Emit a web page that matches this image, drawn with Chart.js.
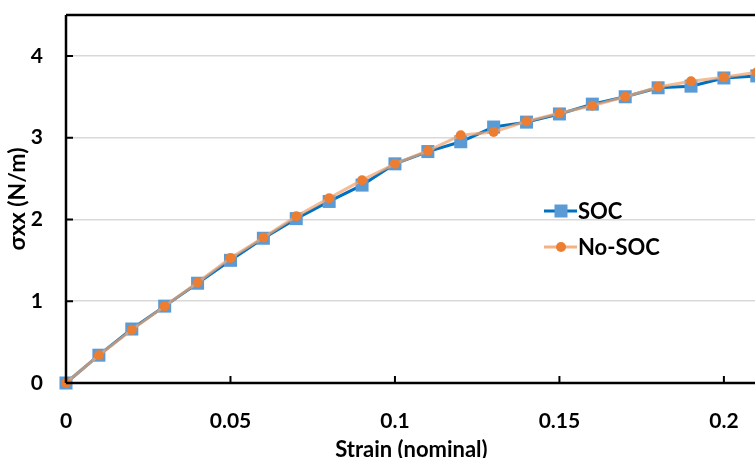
<!DOCTYPE html>
<html>
<head>
<meta charset="utf-8">
<script src="https://cdn.jsdelivr.net/npm/chart.js@4/dist/chart.umd.min.js"></script>
<style>
html,body{margin:0;padding:0;overflow:hidden;background:#fff;}
#wrap{width:766px;height:458px;}
</style>
</head>
<body>
<div id="wrap"><canvas id="c" width="766" height="458"></canvas></div>
<script>
const strain = [0,0.01,0.02,0.03,0.04,0.05,0.06,0.07,0.08,0.09,0.10,0.11,0.12,0.13,0.14,0.15,0.16,0.17,0.18,0.19,0.20,0.21];
const socValues = [0,0.34,0.66,0.94,1.22,1.50,1.77,2.01,2.22,2.42,2.68,2.83,2.95,3.13,3.19,3.29,3.41,3.50,3.61,3.63,3.73,3.755];
const noSocValues = [0,0.34,0.65,0.94,1.23,1.53,1.78,2.04,2.26,2.48,2.68,2.84,3.03,3.07,3.20,3.30,3.39,3.50,3.62,3.69,3.74,3.80];
const xTicks = [0,0.05,0.1,0.15,0.2];
const yTicks = [0,1,2,3,4];
const seriesNames = ['SOC','No-SOC'];

const FONT = 'Lato, "Open Sans", sans-serif';

const framePlugin = {
  id:'frame',
  afterDatasetsDraw(chart){
    const {ctx, chartArea:a, scales:{x,y}} = chart;
    ctx.save();
    ctx.strokeStyle = '#000';
    ctx.lineWidth = 2.5;
    ctx.beginPath();
    ctx.moveTo(a.left, a.top); ctx.lineTo(a.right+2, a.top);
    ctx.moveTo(a.left, a.top); ctx.lineTo(a.left, a.bottom);
    ctx.moveTo(a.left, a.bottom); ctx.lineTo(a.right+2, a.bottom);
    ctx.stroke();
    ctx.lineWidth = 2;
    ctx.beginPath();
    xTicks.forEach(v=>{ const px = x.getPixelForValue(v); ctx.moveTo(px, a.bottom); ctx.lineTo(px, a.bottom-7); });
    yTicks.forEach(v=>{ const py = y.getPixelForValue(v); ctx.moveTo(a.left, py); ctx.lineTo(a.left+7, py); });
    ctx.stroke();
    ctx.restore();
  },
  afterDraw(chart){
    const {ctx} = chart;
    const items = [
      {name:seriesNames[0], line:'#0070C0', fill:'#5B9BD5', shape:'rect', y:211},
      {name:seriesNames[1], line:'#F4B183', fill:'#ED7D31', shape:'circle', y:247}
    ];
    ctx.save();
    items.forEach(it=>{
      ctx.strokeStyle = it.line; ctx.lineWidth = 3;
      ctx.beginPath(); ctx.moveTo(544, it.y); ctx.lineTo(577, it.y); ctx.stroke();
      ctx.fillStyle = it.fill;
      if (it.shape==='rect'){ ctx.fillRect(554.5, it.y-6.5, 13, 13); }
      else { ctx.beginPath(); ctx.arc(561, it.y, 5, 0, Math.PI*2); ctx.fill(); }
      ctx.fillStyle = '#000';
      ctx.font = 'bold 22px ' + FONT;
      ctx.textBaseline = 'middle';
      ctx.textAlign = 'left';
      ctx.fillText(it.name, 578, it.y+1);
    });
    ctx.restore();
  }
};

new Chart(document.getElementById('c'), {
  type:'line',
  data:{
    datasets:[
      {label:seriesNames[0], data:strain.map((s,i)=>({x:s,y:socValues[i]})),
       borderColor:'#0070C0', borderWidth:3, backgroundColor:'#5B9BD5',
       pointStyle:'rect', pointRadius:9.2, pointBorderWidth:0, pointBackgroundColor:'#5B9BD5',
       tension:0, order:2, clip:false},
      {label:seriesNames[1], data:strain.map((s,i)=>({x:s,y:noSocValues[i]})),
       borderColor:'rgba(240,165,115,0.75)', borderWidth:3, backgroundColor:'#ED7D31',
       pointStyle:'circle', pointRadius:5, pointBorderWidth:0, pointBackgroundColor:'#ED7D31',
       tension:0, order:1, clip:false}
    ]
  },
  options:{
    responsive:false, animation:false,
    layout:{padding:{top:15,right:5,left:0,bottom:0}},
    plugins:{legend:{display:false}, tooltip:{enabled:false}},
    scales:{
      x:{type:'linear', min:0, max:0.21,
         afterFit(s){ s.height = 75; s.paddingLeft = 0; s.paddingRight = 0; },
         afterBuildTicks(s){ s.ticks = xTicks.map(v=>({value:v})); },
         grid:{display:false, drawTicks:false},
         border:{display:false},
         ticks:{padding:26, color:'#000', font:{family:FONT, size:21, weight:'bold'},
                callback:v=>String(v), maxRotation:0, autoSkip:false},
         title:{display:true, text:'Strain (nominal)', color:'#000', padding:{top:0,bottom:-5},
                font:{family:FONT, size:22, weight:'bold'}}
      },
      y:{min:0, max:4.5,
         afterFit(s){ s.width = 66; s.paddingTop = 0; s.paddingBottom = 0; },
         afterBuildTicks(s){ s.ticks = yTicks.map(v=>({value:v})); },
         grid:{color:'#D9D9D9', lineWidth:1.5, drawTicks:false},
         border:{display:false},
         ticks:{padding:23, color:'#000', font:{family:FONT, size:21, weight:'bold'}},
         title:{display:true, text:'σxx (N/m)', color:'#000', padding:{top:4,bottom:0},
                font:{family:FONT, size:23, weight:'bold'}}
      }
    }
  },
  plugins:[framePlugin]
});
</script>
</body>
</html>
